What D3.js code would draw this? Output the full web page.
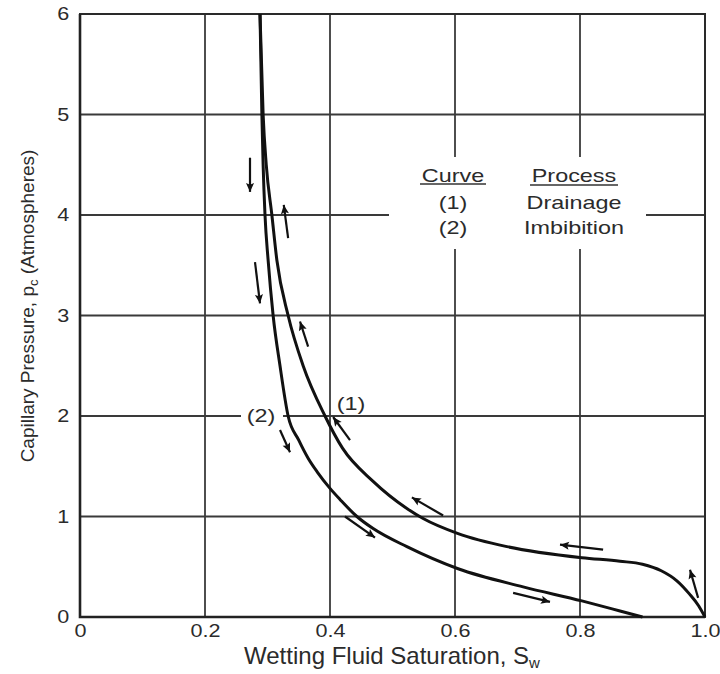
<!DOCTYPE html>
<html>
<head>
<meta charset="utf-8">
<script src="https://cdn.jsdelivr.net/npm/d3@7"></script>
<style>
  body { margin: 0; background: #fff; }
  svg { display: block; }
  text { font-family: "Liberation Sans", Arial, sans-serif; fill: #2b2b2b; }
</style>
</head>
<body>
<div id="chart"></div>
<script>
// axis ticks
const satTicks = [0, 0.2, 0.4, 0.6, 0.8, 1.0];
const satLabels = ["0", "0.2", "0.4", "0.6", "0.8", "1.0"];
const pcTicks = [0, 1, 2, 3, 4, 5, 6];

// curve (1) drainage
const drainSw = [0.288, 0.293, 0.298, 0.307, 0.315, 0.333, 0.357, 0.392, 0.42, 0.469, 0.523,
  0.549, 0.605, 0.683, 0.803, 0.864, 0.9, 0.93, 0.955, 0.975, 0.99, 1.0];
const drainPc = [6.0, 5.0, 4.5, 4.0, 3.55, 3.0, 2.5, 2.0, 1.68, 1.35, 1.08,
  0.98, 0.83, 0.70, 0.59, 0.555, 0.525, 0.46, 0.36, 0.23, 0.11, 0.0];

// curve (2) imbibition
const imbSw = [0.288, 0.291, 0.293, 0.296, 0.301, 0.309, 0.32, 0.333, 0.35, 0.365, 0.38,
  0.4, 0.416, 0.443, 0.469, 0.523, 0.605, 0.709, 0.803, 0.864, 0.9];
const imbPc = [6.0, 5.0, 4.5, 4.0, 3.55, 3.0, 2.5, 2.0, 1.76, 1.58, 1.44,
  1.28, 1.17, 1.0, 0.88, 0.70, 0.48, 0.30, 0.16, 0.06, 0.0];

// direction arrows, [Sw, Pc] of tail and head
const arrowTail = [[0.272, 4.57], [0.333, 3.77], [0.280, 3.53], [0.365, 2.69], [0.320, 1.86],
  [0.432, 1.76], [0.424, 1.00], [0.581, 1.01], [0.837, 0.67], [0.693, 0.24], [0.989, 0.19]];
const arrowHead = [[0.272, 4.23], [0.326, 4.10], [0.288, 3.12], [0.352, 2.94], [0.336, 1.64],
  [0.405, 1.99], [0.472, 0.79], [0.531, 1.19], [0.768, 0.72], [0.752, 0.15], [0.976, 0.47]];

const legendCurves = ["(1)", "(2)"];
const legendProcess = ["Drainage", "Imbibition"];

const width = 720, height = 674;
const margin = { top: 14, right: 15, bottom: 57, left: 80 };

const svg = d3.select("#chart").append("svg")
  .attr("width", width)
  .attr("height", height);

const x = d3.scaleLinear().domain([0, 1]).range([margin.left, width - margin.right]);
const y = d3.scaleLinear().domain([0, 6]).range([height - margin.bottom, margin.top]);

svg.append("defs").append("marker")
  .attr("id", "head")
  .attr("viewBox", "0 0 10 10")
  .attr("refX", 10).attr("refY", 5)
  .attr("markerWidth", 13).attr("markerHeight", 9)
  .attr("markerUnits", "userSpaceOnUse")
  .attr("orient", "auto")
  .append("path")
  .attr("d", "M0,0.5 L10,5 L0,9.5 L2,5 Z")
  .attr("fill", "#111");

//grid
const grid = svg.append("g").attr("stroke", "#3a3a3a").attr("stroke-width", 1.8);
grid.selectAll(".vx")
  .data(satTicks.slice(1, -1))
  .enter().append("line")
  .attr("x1", d => x(d)).attr("x2", d => x(d))
  .attr("y1", y(0)).attr("y2", y(6));
grid.selectAll(".hy")
  .data(pcTicks.slice(1, -1))
  .enter().append("line")
  .attr("x1", x(0)).attr("x2", x(1))
  .attr("y1", d => y(d)).attr("y2", d => y(d));

// frame
svg.append("rect")
  .attr("x", x(0)).attr("y", y(6))
  .attr("width", x(1) - x(0)).attr("height", y(0) - y(6))
  .attr("fill", "none").attr("stroke", "#2a2a2a").attr("stroke-width", 2);
svg.append("path")
  .attr("d", `M${x(0)},${y(6)}V${y(0)}H${x(1)}`)
  .attr("fill", "none").attr("stroke", "#222").attr("stroke-width", 2.6);

// white boxes where the grid is broken behind text
svg.append("rect")
  .attr("x", 389).attr("y", 157).attr("width", 257).attr("height", 92)
  .attr("fill", "#fff");
svg.append("rect")
  .attr("x", 241).attr("y", 405).attr("width", 42).attr("height", 23)
  .attr("fill", "#fff");

// curves
const line = d3.line()
  .x(d => x(d[0]))
  .y(d => y(d[1]))
  .curve(d3.curveMonotoneX);

const curves = [d3.zip(drainSw, drainPc), d3.zip(imbSw, imbPc)];
svg.selectAll(".curve")
  .data(curves)
  .enter().append("path")
  .attr("class", "curve")
  .attr("d", line)
  .attr("fill", "none")
  .attr("stroke", "#111")
  .attr("stroke-width", 3);

// arrows
svg.selectAll(".arrow")
  .data(d3.zip(arrowTail, arrowHead))
  .enter().append("line")
  .attr("class", "arrow")
  .attr("x1", d => x(d[0][0])).attr("y1", d => y(d[0][1]))
  .attr("x2", d => x(d[1][0])).attr("y2", d => y(d[1][1]))
  .attr("stroke", "#111")
  .attr("stroke-width", 2.2)
  .attr("marker-end", "url(#head)");

// axes labels
const yAxis = svg.append("g")
  .attr("transform", `translate(${x(0)},0)`)
  .call(d3.axisLeft(y).tickValues(pcTicks).tickFormat(d3.format("d")).tickSize(0).tickPadding(9));
const xAxis = svg.append("g")
  .attr("transform", `translate(0,${y(0)})`)
  .call(d3.axisBottom(x).tickValues(satTicks).tickFormat((d, i) => satLabels[i]).tickSize(0).tickPadding(7));
[yAxis, xAxis].forEach(function(a) {
  a.select(".domain").remove();
  a.selectAll("text")
    .style("font-family", "'Liberation Sans', Arial, sans-serif")
    .style("font-size", "18px")
    .attr("fill", "#2b2b2b")
    .attr("transform", "scale(1.2,1)");
});

// x title
const xt = svg.append("text")
  .attr("x", 392).attr("y", 664)
  .attr("text-anchor", "middle")
  .style("font-size", "24px");
xt.append("tspan").text("Wetting Fluid Saturation, S");
xt.append("tspan").text("w").attr("dy", 4).style("font-size", "15px");

// y title
const yt = svg.append("text")
  .attr("transform", "translate(34,306) rotate(-90)")
  .attr("text-anchor", "middle")
  .style("font-size", "19px");
yt.append("tspan").text("Capillary Pressure, p");
yt.append("tspan").text("c").attr("dy", 4).style("font-size", "13px");
yt.append("tspan").text(" (Atmospheres)").attr("dy", -4);

// legend
function stretched(cx, by, str) {
  return svg.append("text")
    .attr("transform", `translate(${cx},${by}) scale(1.3,1)`)
    .attr("text-anchor", "middle")
    .style("font-size", "18px")
    .text(str);
}
stretched(453, 182, "Curve");
stretched(574, 182, "Process");
legendCurves.forEach((t, i) => stretched(453, 209 + i * 25, t));
legendProcess.forEach((t, i) => stretched(574, 209 + i * 25, t));
svg.append("line").attr("x1", 420).attr("x2", 486).attr("y1", 184).attr("y2", 184)
  .attr("stroke", "#333").attr("stroke-width", 1.3);
svg.append("line").attr("x1", 530).attr("x2", 618).attr("y1", 185).attr("y2", 185)
  .attr("stroke", "#333").attr("stroke-width", 1.3);

// curve labels on the plot
stretched(351, 410, legendCurves[0]);
stretched(261, 422, legendCurves[1]);
</script>
</body>
</html>
